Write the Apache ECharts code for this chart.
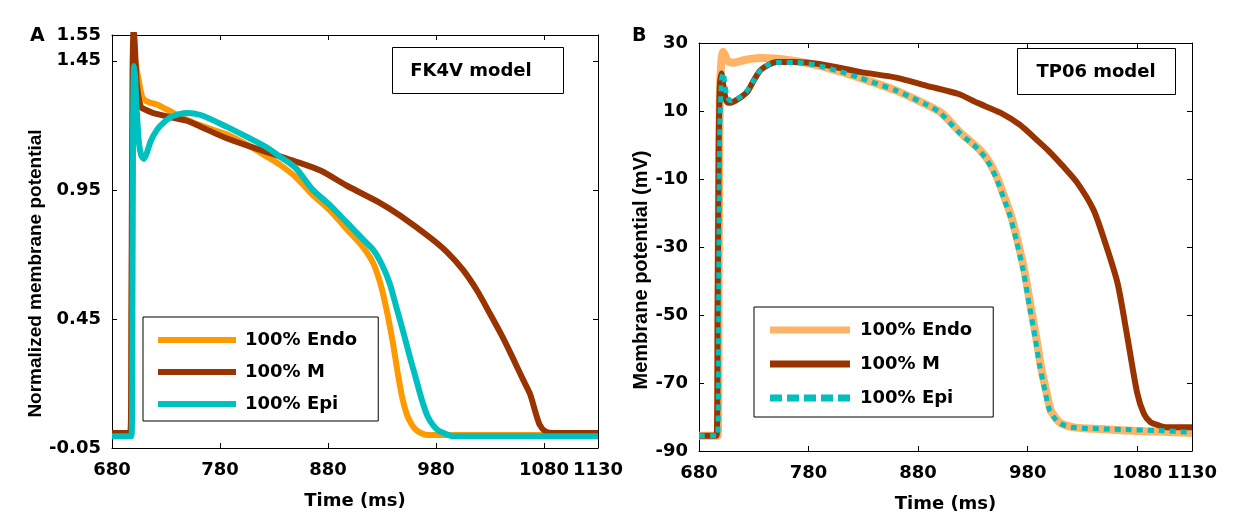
<!DOCTYPE html>
<html><head><meta charset="utf-8">
<script src="https://cdn.jsdelivr.net/npm/echarts@6/dist/echarts.min.js"></script>
<style>html,body{margin:0;padding:0;background:#fff}#c{width:1239px;height:529px}</style>
</head><body><div id="c"></div>
<script>
// ---- tick labels ----
const xTicks = [680, 780, 880, 980, 1080, 1130];
const yTicksA = [-0.05, 0.45, 0.95, 1.45, 1.55];
const yTicksB = [-90, -70, -50, -30, -10, 10, 30];
const legendNames = ['100% Endo', '100% M', '100% Epi'];

// ---- Panel A (FK4V, normalized) ----
const endoA_t = [680, 697, 698, 699, 700, 702, 705, 708, 712, 716, 722, 736, 749, 762, 786, 805, 823, 836, 850, 866, 882, 898, 912, 922, 929, 935, 940, 945, 949, 953, 957, 961, 966, 972, 1130];
const endoA_v = [0, 0, 0.35, 1.05, 1.5, 1.44, 1.37, 1.31, 1.293, 1.287, 1.28, 1.25, 1.222, 1.2, 1.165, 1.125, 1.08, 1.046, 1.0, 0.93, 0.87, 0.795, 0.73, 0.665, 0.58, 0.47, 0.36, 0.23, 0.14, 0.08, 0.045, 0.022, 0.008, 0, 0];
const mA_t = [680, 697, 698, 699, 700, 701, 702, 703, 705, 707, 710, 720, 749, 762, 786, 823, 850, 873, 898, 928, 947, 974, 990, 1005, 1018, 1030, 1041, 1051, 1060, 1067, 1072, 1076, 1081, 1088, 1130];
const mA_v = [0.008, 0.008, 0.5, 1.4, 1.57, 1.52, 1.43, 1.36, 1.3, 1.27, 1.262, 1.245, 1.218, 1.195, 1.15, 1.097, 1.06, 1.025, 0.965, 0.9, 0.85, 0.767, 0.71, 0.64, 0.56, 0.47, 0.385, 0.3, 0.22, 0.16, 0.09, 0.04, 0.015, 0.008, 0.008];
const epiA_t = [680, 698, 699, 699.5, 700.5, 701.5, 703, 705, 707, 709.5, 712, 716, 722, 729, 736, 749, 762, 786, 805, 823, 836, 850, 866, 882, 898, 912, 922, 930, 937, 943, 949, 956, 962, 967, 972, 977, 982, 988, 995, 1130];
const epiA_v = [-0.004, -0.004, 0.6, 1.2, 1.43, 1.38, 1.25, 1.13, 1.085, 1.07, 1.09, 1.14, 1.185, 1.215, 1.235, 1.248, 1.24, 1.195, 1.155, 1.115, 1.077, 1.035, 0.95, 0.89, 0.821, 0.76, 0.717, 0.66, 0.589, 0.5, 0.41, 0.3, 0.21, 0.135, 0.075, 0.04, 0.018, 0.006, -0.004, -0.004];

// ---- Panel B (TP06, mV) ----
const endoB_t = [680, 697, 698, 699, 700.5, 702, 703.5, 706, 711, 716, 722, 729, 736, 745, 754, 770, 790, 810, 827, 860, 888, 901, 919, 935, 944, 952, 959, 965, 971, 977, 983, 988, 992, 997, 1001, 1006, 1011, 1021, 1031, 1050, 1070, 1100, 1130];
const endoB_v = [-85.5, -85.5, -30, 15, 25, 27.4, 26.5, 24.8, 24.2, 24.5, 25, 25.4, 25.6, 25.5, 25.3, 24.6, 23.3, 21.5, 19.7, 16, 11.8, 9.5, 3.5, -1, -4.5, -9.5, -15.5, -21, -28.5, -37, -48, -57, -65, -72.5, -78, -80.5, -82, -83, -83.3, -83.6, -84, -84.3, -84.7];
const mB_t = [680, 696, 697, 698, 699, 700.5, 702, 704, 706, 709, 713, 718, 724, 730, 736, 743, 751, 766, 790, 827, 860, 888, 917, 934, 955, 973, 990, 1000, 1013, 1025, 1040, 1050, 1062, 1071, 1080, 1086, 1092, 1100, 1107, 1130];
const mB_v = [-85.5, -85.5, -50, 0, 17, 21, 18, 14, 12.5, 12.4, 13, 14, 15.6, 19, 22, 23.5, 24.4, 24.4, 23.8, 21.5, 19.8, 17.4, 15, 12.4, 9.5, 5.9, 1, -2, -6.5, -11, -19, -28, -40.6, -56.5, -73, -79, -81.5, -82.5, -83, -83];
const epiB_t = [680, 697, 698, 699, 700.5, 702, 704, 706, 709, 713, 718, 724, 730, 736, 743, 751, 770, 790, 810, 827, 860, 888, 900, 918, 934, 943, 951, 958, 964, 970, 976, 982, 987, 991, 996, 1000, 1005, 1010, 1020, 1030, 1050, 1070, 1100, 1130];
const epiB_v = [-85.5, -85.5, -40, 5, 19, 21.2, 17, 14, 13, 13.2, 14.2, 16, 19, 22, 23.5, 24.3, 24.3, 23.2, 21.5, 19.7, 16, 11.8, 9.5, 3.5, -1, -4.5, -9.5, -15.5, -21, -28.5, -37, -48, -57, -65, -72.5, -78, -80.5, -82, -83, -83.3, -83.5, -83.7, -84, -84.5];

const pair = (t, v) => t.map((x, i) => [x, v[i]]);

const tickFont = {fontFamily: 'DejaVu Sans', fontWeight: 'bold', fontSize: 18, color: '#000'};
const black = {color: '#000', width: 1};

function xAx(grid, pos, show) {
  return {
    type: 'value', gridIndex: grid, position: pos, min: 680, max: 1130,
    axisLine: {show: true, onZero: false, lineStyle: black},
    axisTick: {show: true, inside: true, length: 5, lineStyle: black, customValues: xTicks},
    axisLabel: show ? Object.assign({show: true, margin: 13, customValues: xTicks, hideOverlap: false,
      showMinLabel: true, showMaxLabel: true, formatter: v => String(v)}, tickFont) : {show: false},
    splitLine: {show: false},
    name: show ? 'Time (ms)' : '', nameLocation: 'middle', nameGap: 44,
    nameTextStyle: {fontFamily: 'DejaVu Sans', fontWeight: 'bold', fontSize: 18, color: '#000'}
  };
}
function yAx(grid, pos, min, max, ticks, show, name, gap, fmt, fs, shiftPad) {
  return {
    type: 'value', gridIndex: grid, position: pos, min: min, max: max,
    axisLine: {show: true, onZero: false, lineStyle: black},
    axisTick: {show: true, inside: true, length: 5, lineStyle: black, customValues: ticks},
    axisLabel: show ? Object.assign({show: true, margin: 11, customValues: ticks, formatter: fmt, hideOverlap: false,
      showMinLabel: true, showMaxLabel: true}, tickFont) : {show: false},
    splitLine: {show: false},
    name: show ? name : '', nameLocation: 'middle', nameGap: gap,
    nameTextStyle: {fontFamily: 'Liberation Sans', fontWeight: 'bold', fontSize: fs || 18, color: '#000',
      padding: [0, shiftPad || 0, 0, 0]}
  };
}

function line(name, data, xi, yi, color, width, type) {
  return {
    name: name, type: 'line', xAxisIndex: xi, yAxisIndex: yi, data: data,
    showSymbol: false, symbol: 'none', smooth: 0.25, clip: true, color: color,
    itemStyle: {color: color},
    lineStyle: {color: color, width: width, type: type || 'solid', cap: 'butt', join: 'round'},
    emphasis: {disabled: true}, silent: true
  };
}

const cA = {endo: '#FF9900', m: '#993300', epi: '#00BFBF'};
const cB = {endo: '#FFB366', m: '#993300', epi: '#00BFBF'};

const legendText = {fontFamily: 'DejaVu Sans', fontWeight: 'bold', fontSize: 18, color: '#000', padding: [0, 0, 0, 4]};
const fmtName = n => n.split('|')[1];

const chart = echarts.init(document.getElementById('c'), null, {renderer: 'canvas'});
chart.setOption({
  animation: false,
  backgroundColor: '#fff',
  grid: [
    {left: 112, top: 35, width: 486, height: 413},
    {left: 699, top: 43, width: 493, height: 408}
  ],
  xAxis: [xAx(0, 'bottom', true), xAx(0, 'top', false), xAx(1, 'bottom', true), xAx(1, 'top', false)],
  yAxis: [
    yAx(0, 'left', -0.05, 1.55, yTicksA, true, 'Normalized membrane potential', 59, v => v.toFixed(2), 19, 64),
    yAx(0, 'right', -0.05, 1.55, yTicksA, false),
    yAx(1, 'left', -90, 30, yTicksB, true, 'Membrane potential (mV)', 42, v => String(v), 20, 46),
    yAx(1, 'right', -90, 30, yTicksB, false)
  ],
  legend: [
    {
      left: 143, top: 317, orient: 'vertical', selectedMode: false,
      padding: [14, 21, 8, 15], itemGap: 14, itemWidth: 78, itemHeight: 6,
      borderColor: '#000', borderWidth: 1, backgroundColor: '#fff',
      formatter: fmtName, textStyle: legendText,
      data: [{name: 'A|' + legendNames[0], icon: 'rect'}, {name: 'A|' + legendNames[1], icon: 'rect'}, {name: 'A|' + legendNames[2], icon: 'rect'}]
    },
    {
      left: 754, top: 307, orient: 'vertical', selectedMode: false,
      padding: [14, 21, 10, 16], itemGap: 16, itemWidth: 80, itemHeight: 7,
      borderColor: '#000', borderWidth: 1, backgroundColor: '#fff',
      formatter: fmtName, textStyle: Object.assign({}, legendText, {padding: [0, 0, 0, 5]}),
      data: [{name: 'B|' + legendNames[0], icon: 'rect'}, {name: 'B|' + legendNames[1], icon: 'rect'},
             {name: 'B|' + legendNames[2], icon: 'path://M0,0h12v7h-12z M17,0h12v7h-12z M34,0h12v7h-12z M51,0h12v7h-12z M68,0h12v7h-12z'}]
    }
  ],
  series: [
    line('A|' + legendNames[0], pair(endoA_t, endoA_v), 0, 0, cA.endo, 6),
    line('A|' + legendNames[1], pair(mA_t, mA_v), 0, 0, cA.m, 6),
    line('A|' + legendNames[2], pair(epiA_t, epiA_v), 0, 0, cA.epi, 6),
    line('B|' + legendNames[0], pair(endoB_t, endoB_v), 2, 2, cB.endo, 8),
    line('B|' + legendNames[1], pair(mB_t, mB_v), 2, 2, cB.m, 6),
    line('B|' + legendNames[2], pair(epiB_t, epiB_v), 2, 2, cB.epi, 5, [6, 5])
  ],
  graphic: [
    {type: 'text', left: 30, top: 27, style: {text: 'A', font: 'bold 19px "DejaVu Sans"', fill: '#000'}},
    {type: 'text', left: 632, top: 27, style: {text: 'B', font: 'bold 19px "DejaVu Sans"', fill: '#000'}},
    {type: 'rect', shape: {x: 392.5, y: 47.5, width: 171, height: 46}, style: {fill: '#fff', stroke: '#000', lineWidth: 1}, z: 10},
    {type: 'text', x: 471, y: 71, style: {text: 'FK4V model', font: 'bold 18px "DejaVu Sans"', fill: '#000', align: 'center', verticalAlign: 'middle'}, z: 11},
    {type: 'rect', shape: {x: 1017.5, y: 48.5, width: 158, height: 46}, style: {fill: '#fff', stroke: '#000', lineWidth: 1}, z: 10},
    {type: 'text', x: 1096, y: 72, style: {text: 'TP06 model', font: 'bold 18px "DejaVu Sans"', fill: '#000', align: 'center', verticalAlign: 'middle'}, z: 11}
  ]
});
</script></body></html>
